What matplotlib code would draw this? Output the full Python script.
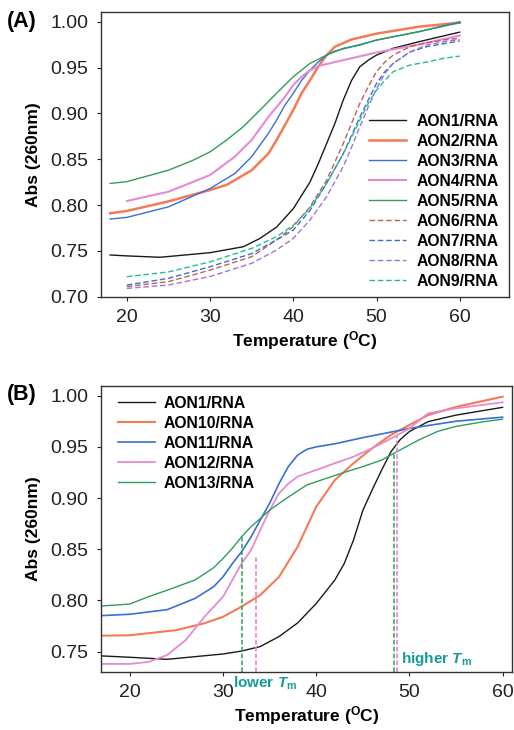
import matplotlib
matplotlib.use("Agg")
import matplotlib.pyplot as plt

plt.rcParams['font.family'] = ['Liberation Sans', 'DejaVu Sans']
plt.rcParams['mathtext.fontset'] = 'custom'
plt.rcParams['mathtext.rm'] = 'Liberation Sans:bold'
plt.rcParams['mathtext.bf'] = 'Liberation Sans:bold'
plt.rcParams['mathtext.it'] = 'Liberation Sans:bold:italic'

# ---------------- Panel A data ----------------
T_aon1 = [18, 20, 24, 30, 34, 36, 38, 40, 42, 43, 44, 45, 46, 47, 48, 49, 50, 52, 55, 60]
A_aon1 = [0.7455, 0.7445, 0.743, 0.748, 0.7545, 0.7636, 0.776, 0.796, 0.825, 0.845, 0.867,
          0.889, 0.9145, 0.936, 0.951, 0.958, 0.9636, 0.971, 0.978, 0.9887]

T_aon2 = [18, 20, 25, 30, 32, 35, 37, 38, 40, 41, 42, 43, 44, 45, 47, 50, 55, 60]
A_aon2 = [0.791, 0.7935, 0.804, 0.8164, 0.822, 0.838, 0.856, 0.871, 0.9036, 0.922, 0.936,
          0.951, 0.9636, 0.9727, 0.9807, 0.987, 0.9945, 0.999]

T_aon3 = [18, 20, 25, 30, 33, 35, 37, 38, 39, 40, 41, 42, 43, 44, 45, 47, 50, 55, 60]
A_aon3 = [0.7847, 0.7865, 0.798, 0.818, 0.8345, 0.8527, 0.878, 0.8927, 0.909, 0.922, 0.936,
          0.947, 0.956, 0.9636, 0.968, 0.9727, 0.980, 0.989, 0.999]

T_aon4 = [20, 25, 30, 33, 35, 37, 38, 39, 40, 41, 42, 43, 45, 50, 55, 60]
A_aon4 = [0.8044, 0.8145, 0.8327, 0.853, 0.871, 0.896, 0.907, 0.918, 0.931, 0.940, 0.947,
          0.9516, 0.956, 0.9665, 0.975, 0.985]

T_aon5 = [18, 20, 23, 25, 28, 30, 32, 34, 36, 38, 40, 42, 44, 46, 48, 50, 55, 60]
A_aon5 = [0.8236, 0.8255, 0.833, 0.838, 0.849, 0.858, 0.871, 0.8855, 0.9036, 0.922, 0.940,
          0.9545, 0.9636, 0.971, 0.9745, 0.980, 0.989, 1.000]

T_dash = [20, 25, 30, 35, 38, 40, 42, 44, 46, 47, 48, 49, 50, 51, 52, 54, 56, 58, 60]
A_aon6 = [0.711, 0.7164, 0.729, 0.7436, 0.762, 0.7764, 0.798, 0.827, 0.867, 0.889, 0.911,
          0.929, 0.9455, 0.956, 0.9636, 0.9727, 0.977, 0.980, 0.982]
A_aon7 = [0.7127, 0.720, 0.7327, 0.747, 0.762, 0.7727, 0.794, 0.8236, 0.856, 0.876, 0.896,
          0.9145, 0.9327, 0.9455, 0.9545, 0.967, 0.9727, 0.976, 0.979]
A_aon8 = [0.709, 0.7127, 0.722, 0.7364, 0.751, 0.7636, 0.7836, 0.809, 0.842, 0.863, 0.8855,
          0.907, 0.927, 0.9436, 0.9545, 0.967, 0.9745, 0.978, 0.9807]
A_aon9 = [0.7218, 0.727, 0.738, 0.7527, 0.7655, 0.778, 0.7964, 0.8236, 0.856, 0.874, 0.8927,
          0.911, 0.9255, 0.936, 0.9455, 0.9527, 0.956, 0.960, 0.9625]

# ---------------- Panel B data ----------------
T_b1 = [17, 20, 24, 30, 32, 34, 36, 38, 40, 42, 43, 44, 45, 46, 47, 48, 49, 50, 52, 55, 60]
B_aon1 = [0.7458, 0.7445, 0.7425, 0.7477, 0.7506, 0.755, 0.7647, 0.778, 0.797, 0.820, 0.836,
          0.859, 0.888, 0.908, 0.927, 0.945, 0.957, 0.965, 0.9746, 0.981, 0.9886]

T_b10 = [17, 20, 25, 28, 30, 32, 34, 36, 38, 39, 40, 42, 44, 46, 48, 50, 52, 55, 60]
B_aon10 = [0.7656, 0.766, 0.771, 0.7777, 0.784, 0.794, 0.8053, 0.823, 0.8525, 0.872, 0.8916,
           0.9176, 0.934, 0.9486, 0.9616, 0.9714, 0.981, 0.989, 0.999]

T_b11 = [17, 20, 24, 27, 29, 30, 31, 32, 33, 34, 35, 36, 37, 38, 39, 40, 42, 45, 50, 55, 60]
B_aon11 = [0.7852, 0.7865, 0.791, 0.802, 0.8135, 0.8232, 0.836, 0.8477, 0.862, 0.8786, 0.895,
           0.914, 0.9307, 0.942, 0.9476, 0.950, 0.953, 0.959, 0.968, 0.975, 0.979]

T_b12 = [17, 20, 22, 24, 26, 28, 30, 31, 32, 33, 34, 35, 36, 37, 38, 40, 42, 44, 46, 48, 50,
         52, 55, 60]
B_aon12 = [0.738, 0.738, 0.740, 0.7467, 0.7614, 0.784, 0.8037, 0.820, 0.8363, 0.849, 0.869,
           0.888, 0.9046, 0.914, 0.921, 0.9274, 0.934, 0.9404, 0.9486, 0.958, 0.968, 0.9827,
           0.9876, 0.9935]

T_b13 = [17, 20, 22, 24, 27, 29, 30, 31, 32, 33, 34, 35, 37, 39, 41, 43, 45, 47, 49, 51, 53,
         55, 58, 60]
B_aon13 = [0.7946, 0.7965, 0.8037, 0.810, 0.820, 0.832, 0.841, 0.851, 0.8623, 0.872, 0.880,
           0.8883, 0.901, 0.9128, 0.919, 0.925, 0.9307, 0.937, 0.947, 0.9567, 0.965, 0.970,
           0.9746, 0.977]

# Tm markers: (temperature, absorbance, colour)
tm_temps = [32.0, 33.5, 48.3, 48.7]
tm_abs = [0.862, 0.843, 0.944, 0.961]
tm_colors = ['#2e9e5e', '#e07ad0', '#2e9e5e', '#e07ad0']

C_BLACK = '#1a1a1a'
C_ORANGE = '#f57a55'
C_BLUE = '#3b6fd2'
C_PINK = '#e68ad2'
C_GREEN = '#2e9e5e'
C_BROWN = '#c0634e'
C_PURPLE = '#a473d6'
C_TEAL = '#20c08e'
C_TXT = '#169a9a'

fig = plt.figure(figsize=(5.14, 7.30), dpi=100)
axA = fig.add_axes([0.1965, 0.5936, 0.7935, 0.3894])
axB = fig.add_axes([0.1965, 0.080, 0.7995, 0.3912])

lw = 1.0
axA.plot(T_aon1, A_aon1, color=C_BLACK, lw=lw, label='AON1/RNA')
axA.plot(T_aon2, A_aon2, color=C_ORANGE, lw=1.8, label='AON2/RNA')
axA.plot(T_aon3, A_aon3, color=C_BLUE, lw=lw, label='AON3/RNA')
axA.plot(T_aon4, A_aon4, color=C_PINK, lw=1.5, label='AON4/RNA')
axA.plot(T_aon5, A_aon5, color=C_GREEN, lw=lw, label='AON5/RNA')
dash = (0, (4, 2))
axA.plot(T_dash, A_aon6, color=C_BROWN, lw=lw, ls=dash, label='AON6/RNA')
axA.plot(T_dash, A_aon7, color=C_BLUE, lw=lw, ls=dash, label='AON7/RNA')
axA.plot(T_dash, A_aon8, color=C_PURPLE, lw=lw, ls=dash, label='AON8/RNA')
axA.plot(T_dash, A_aon9, color=C_TEAL, lw=lw, ls=dash, label='AON9/RNA')

axB.plot(T_b1, B_aon1, color=C_BLACK, lw=lw, label='AON1/RNA')
axB.plot(T_b10, B_aon10, color=C_ORANGE, lw=1.5, label='AON10/RNA')
axB.plot(T_b11, B_aon11, color=C_BLUE, lw=1.2, label='AON11/RNA')
axB.plot(T_b12, B_aon12, color=C_PINK, lw=1.3, label='AON12/RNA')
axB.plot(T_b13, B_aon13, color=C_GREEN, lw=lw, label='AON13/RNA')

axA.set_xlim(16.9, 65.9)
axA.set_ylim(0.70, 1.0102)
axB.set_xlim(16.9, 61.0)
axB.set_ylim(0.7305, 1.0094)

for t, a, c in zip(tm_temps, tm_abs, tm_colors):
    axB.vlines(t, axB.get_ylim()[0], a, colors=c, lw=1.1, linestyles=(0, (3, 1.5)))

axA.set_xticks([20, 30, 40, 50, 60])
axA.set_yticks([0.70, 0.75, 0.80, 0.85, 0.90, 0.95, 1.00])
axB.set_xticks([20, 30, 40, 50, 60])
axB.set_yticks([0.75, 0.80, 0.85, 0.90, 0.95, 1.00])

for ax in (axA, axB):
    ax.yaxis.set_major_formatter(matplotlib.ticker.FormatStrFormatter('%.2f'))
    ax.tick_params(direction='out', length=3, width=0.8, labelsize=14, colors='#222222')
    ax.tick_params(axis='x', pad=6)
    ax.tick_params(axis='y', pad=6)
    for s in ax.spines.values():
        s.set_color('#333333')
        s.set_linewidth(1.0)
    ax.set_ylabel('Abs (260nm)', fontsize=12.5, fontweight='bold', labelpad=7)
    ax.set_xlabel(r'Temperature ($^{\mathrm{O}}$C)', fontsize=12.5, fontweight='bold', labelpad=2)

legA = axA.legend(loc='lower right', frameon=False, prop={'weight': 'bold', 'size': 11.3},
                  handlelength=2.35, handletextpad=0.65, labelspacing=0.32,
                  bbox_to_anchor=(1.01, -0.022))
legB = axB.legend(loc='upper left', frameon=False, prop={'weight': 'bold', 'size': 11.3},
                  handlelength=2.35, handletextpad=0.55, labelspacing=0.32,
                  bbox_to_anchor=(0.008, 1.015))

axB.text(31.1, 0.7191, r'lower $T_{\mathrm{m}}$', color=C_TXT, fontsize=11, fontweight='bold',
         va='center', ha='left', clip_on=False)
axB.text(49.1, 0.7425, r'higher $T_{\mathrm{m}}$', color=C_TXT, fontsize=11, fontweight='bold',
         va='center', ha='left')

fig.text(0.014, 0.970, '(A)', fontsize=15.5, fontweight='bold', va='center', ha='left')
fig.text(0.014, 0.459, '(B)', fontsize=15.5, fontweight='bold', va='center', ha='left')

fig.savefig('out.png', dpi=100)
